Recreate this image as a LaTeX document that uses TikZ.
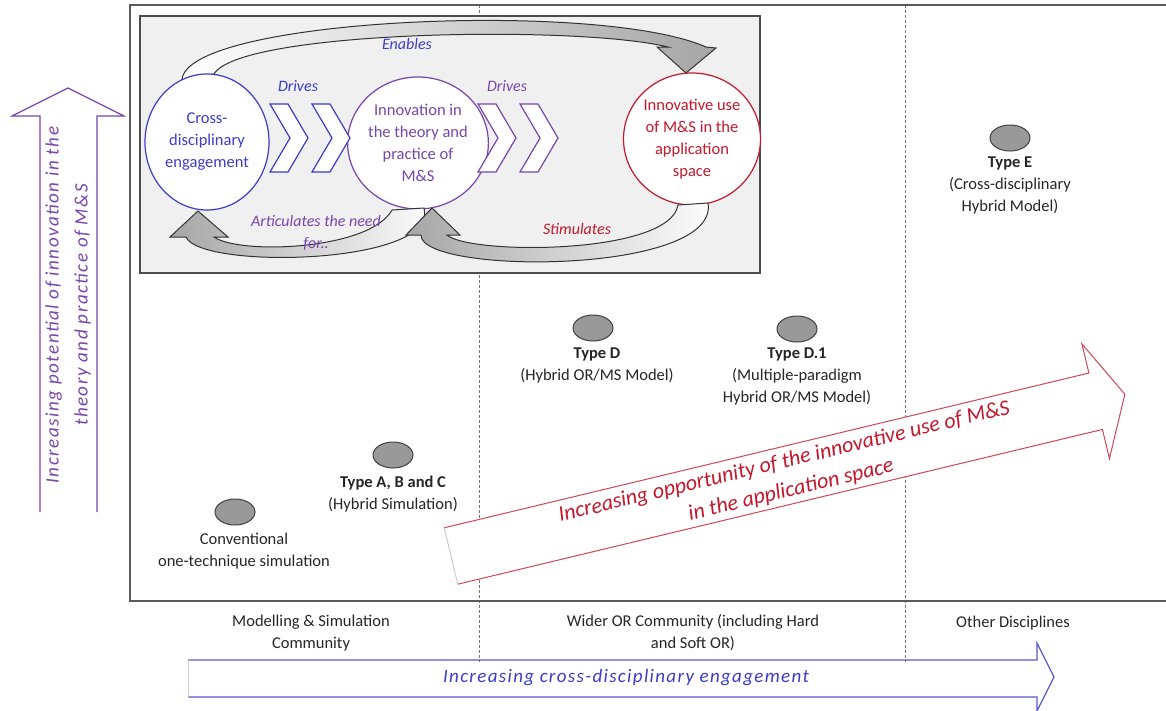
\documentclass[tikz,border=0pt]{standalone}
\usepackage{fontspec}
\setmainfont{Carlito}
\usetikzlibrary{shapes.geometric,positioning}

\definecolor{msblue}{RGB}{60,60,200}
\definecolor{mspurple}{RGB}{120,70,170}
\definecolor{msred}{RGB}{195,25,45}
\definecolor{frameclr}{RGB}{90,90,90}

\tikzset{
  bubble/.style={ellipse,draw,fill=white,line width=1.2pt,inner sep=0pt,
    minimum width=124pt,minimum height=136pt,align=center,
    font=\fontsize{16.5}{22}\selectfont},
  blob/.style={ellipse,draw=black!75,fill=black!40,line width=1pt,
    minimum width=40pt,minimum height=26pt},
  lbl/.style={align=center,text=black!85,font=\fontsize{16.5}{22}\selectfont},
  tag/.style={align=center,font=\fontsize{16}{22}\selectfont\itshape},
  chev/.style={fill=white,line width=1.2pt},
  band/.style={draw=black!80,line width=1pt},
  sep/.style={densely dashed,black!55,line width=0.6pt}
}

\begin{document}
\begin{tikzpicture}[x=1pt,y=-1pt]
        \useasboundingbox (0,0) rectangle (1166,710);
        \fill[white] (0,0) rectangle (1166,710);
        \draw[sep] (479,5) -- (479,662);
        \draw[sep] (905,5) -- (905,662);
        \draw[frameclr,line width=1.5pt] (1166,5) -- (130,5) -- (130,601) -- (1166,601);
        \draw[black!70,fill=black!6,line width=1.5pt] (140,16) rectangle (760,273);

        % cycle in the inset
        \path[band,left color=white,right color=black!35]
          (182,80) .. controls (185,18) and (600,0) .. (706,47)
          -- (716,48) -- (686,73) -- (657,47) -- (668,47)
          .. controls (580,25) and (240,30) .. (214,74) -- cycle;
        \node[bubble,draw=msblue,text=msblue] (cde) at (207,142) {Cross-\\disciplinary\\engagement};
        \node[bubble,draw=mspurple,text=mspurple,minimum width=118pt,minimum height=132pt] (itp) at (418,143) {Innovation in\\the theory and\\practice of\\M\&S};
        \node[bubble,draw=msred,text=msred,minimum height=132pt] (iuse) at (692,139) {Innovative use\\of M\&S in the\\application\\space};
        \path[band,left color=black!35,right color=white]
          (424,208) .. controls (440,265) and (200,270) .. (186,237)
          -- (170,237) -- (198,211) -- (228,237) -- (214,237)
          .. controls (240,255) and (370,250) .. (392,210) -- cycle;
        \path[band,left color=black!35,right color=white]
          (708,203) .. controls (720,275) and (420,275) .. (421,235)
          -- (406,235) -- (432,208) -- (460,235) -- (447,235)
          .. controls (470,255) and (670,255) .. (678,205) -- cycle;
        \foreach \x in {270,312}
        \draw[chev,draw=msblue,shift={(\x,104)}] (0,0) -- (18,0) -- (38,34) -- (18,68) -- (0,68) -- (20,34) -- cycle;
        \foreach \x in {478,520}
        \draw[chev,draw=mspurple,shift={(\x,104)}] (0,0) -- (18,0) -- (38,34) -- (18,68) -- (0,68) -- (20,34) -- cycle;
        \node[tag,text=msblue] (enables) at (407,44) {Enables};
        \node[tag,text=msblue] (drives1) at (298,86) {Drives};
        \node[tag,text=mspurple] (drives2) at (507,86) {Drives};
        \node[tag,text=mspurple] (artic) at (316,233) {Articulates the need\\for..};
        \node[tag,text=msred] (stim) at (577,229) {Stimulates};

        % model types
        \node[blob] (conv) at (235,512) {};
        \node[lbl,below=4pt of conv,xshift=9pt] (convlbl) {Conventional\\one-technique simulation};
        \node[blob] (typeabc) at (393,455) {};
        \node[lbl,below=4pt of typeabc] (typeabclbl) {\textbf{Type A, B and C}\\(Hybrid Simulation)};
        \node[blob] (typed) at (593,328) {};
        \node[lbl,below=3pt of typed,xshift=4pt] (typedlbl) {\textbf{Type D}\\(Hybrid OR/MS Model)};
        \node[blob] (typedone) at (797,329) {};
        \node[lbl,below=2pt of typedone] (typedonelbl) {\textbf{Type D.1}\\(Multiple-paradigm\\Hybrid OR/MS Model)};
        \node[blob] (typee) at (1010,138) {};
        \node[lbl,below=2pt of typee] (typeelbl) {\textbf{Type E}\\(Cross-disciplinary\\Hybrid Model)};

        % communities
        \node[lbl] (msc) at (311,633) {Modelling \& Simulation\\Community};
        \node[lbl] (orc) at (693,633) {Wider OR Community (including Hard\\and Soft OR)};
        \node[lbl] (other) at (1013,623) {Other Disciplines};

        % vertical axis arrow
        \draw[mspurple,line width=1.2pt] (40,512) -- (40,116) -- (12,116) -- (68,88) -- (124,116) -- (97,116) -- (97,512);
        \node[tag,text=mspurple,rotate=90,font=\fontsize{19}{29}\selectfont\itshape\addfontfeature{LetterSpace=8}] (vlbl) at (68,305) {Increasing potential of innovation in the\\theory and practice of M\&S};

        % horizontal axis arrow
        \draw[msblue!85,line width=1.2pt] (188,697) -- (1037,697) -- (1037,711) -- (1054,677) -- (1037,643) -- (1037,660) -- (188,660);
        \draw[black!20,line width=1pt] (188,660) -- (188,697);
        \node[tag,text=msblue,font=\fontsize{19}{22}\selectfont\itshape\addfontfeature{LetterSpace=7}] (hlbl) at (626,678) {Increasing cross-disciplinary engagement};

        % application space arrow
        \begin{scope}[shift={(451,556)},rotate=13.5]
        \draw[msred!80,fill=white,line width=1pt] (0,29) -- (663,29) -- (663,59) -- (693,0) -- (663,-59) -- (663,-29) -- (0,-29);
        \draw[black!20,line width=1pt] (0,-29) -- (0,29);
        \node[align=center,text=msred,rotate=13.5,font=\fontsize{22}{29}\selectfont\itshape] (oplbl) at (346,1) {Increasing opportunity of the innovative use of M\&S\\in the application space};
        \end{scope}
\end{tikzpicture}
\end{document}
